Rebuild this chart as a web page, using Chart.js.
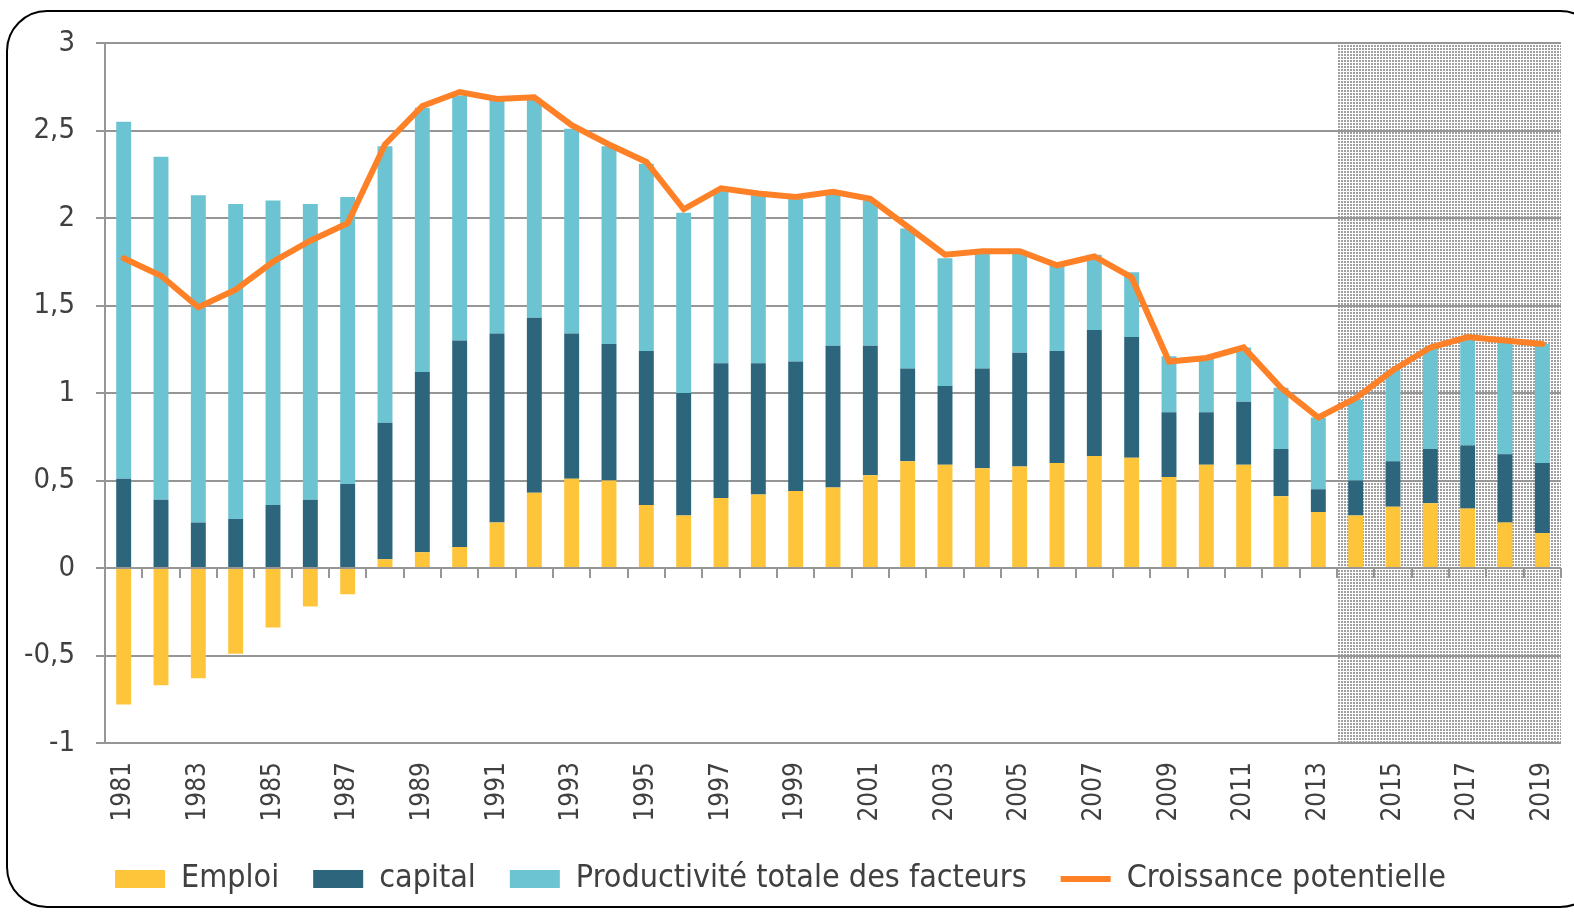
<!DOCTYPE html>
<html>
<head>
<meta charset="utf-8">
<script src="https://cdn.jsdelivr.net/npm/chart.js@4/dist/chart.umd.min.js"></script>
<style>
  html, body { margin: 0; padding: 0; background: #fff; }
  #wrap { width: 1574px; height: 913px; position: relative; }
</style>
</head>
<body>
<div id="wrap"><canvas id="myChart"></canvas></div>
<script>
'use strict'

var years = [1981, 1982, 1983, 1984, 1985, 1986, 1987, 1988, 1989, 1990,
  1991, 1992, 1993, 1994, 1995, 1996, 1997, 1998, 1999, 2000,
  2001, 2002, 2003, 2004, 2005, 2006, 2007, 2008, 2009, 2010,
  2011, 2012, 2013, 2014, 2015, 2016, 2017, 2018, 2019]

var emploi = [-0.78, -0.67, -0.63, -0.49, -0.34, -0.22, -0.15, 0.05, 0.09, 0.12,
  0.26, 0.43, 0.51, 0.50, 0.36, 0.30, 0.40, 0.42, 0.44, 0.46,
  0.53, 0.61, 0.59, 0.57, 0.58, 0.60, 0.64, 0.63, 0.52, 0.59,
  0.59, 0.41, 0.32, 0.30, 0.35, 0.37, 0.34, 0.26, 0.20]

var capital = [0.51, 0.39, 0.26, 0.28, 0.36, 0.39, 0.48, 0.78, 1.03, 1.18,
  1.08, 1.00, 0.83, 0.78, 0.88, 0.70, 0.77, 0.75, 0.74, 0.81,
  0.74, 0.53, 0.45, 0.57, 0.65, 0.64, 0.72, 0.69, 0.37, 0.30,
  0.36, 0.27, 0.13, 0.20, 0.26, 0.31, 0.36, 0.39, 0.40]

var ptf = [2.04, 1.96, 1.87, 1.80, 1.74, 1.69, 1.64, 1.58, 1.51, 1.40,
  1.34, 1.25, 1.17, 1.13, 1.07, 1.03, 0.99, 0.96, 0.93, 0.87,
  0.83, 0.80, 0.73, 0.67, 0.58, 0.49, 0.43, 0.37, 0.32, 0.31,
  0.31, 0.35, 0.41, 0.46, 0.52, 0.58, 0.61, 0.64, 0.68]

var croissance = [1.77, 1.67, 1.49, 1.59, 1.75, 1.87, 1.97, 2.42, 2.64, 2.72,
  2.68, 2.69, 2.53, 2.42, 2.32, 2.05, 2.17, 2.14, 2.12, 2.15,
  2.11, 1.95, 1.79, 1.81, 1.81, 1.73, 1.78, 1.66, 1.18, 1.20,
  1.26, 1.03, 0.86, 0.97, 1.13, 1.26, 1.32, 1.30, 1.28]

// first year of the projection (shaded area)
var projectionStart = 2014

var grey = '#969696'
var textColor = '#404040'

Chart.defaults.font.family = "'Liberation Sans Narrow', 'DejaVu Sans Condensed', 'Noto Sans', sans-serif"
Chart.defaults.color = textColor

// dotted grey pattern for the projection years
function makePattern (g0) {
  var c = document.createElement('canvas')
  c.width = 3
  c.height = 3
  var g = c.getContext('2d')
  g.fillStyle = '#ffffff'
  g.fillRect(0, 0, 3, 3)
  g.fillStyle = '#a0a0a0'
  g.fillRect(0, 0, 2, 2)
  return g0.createPattern(c, 'repeat')
}

var decor = {
  id: 'decor',
  beforeDraw: function (chart) {
    var ctx = chart.ctx
    var area = chart.chartArea
    var x = chart.scales.x
    var i = years.indexOf(projectionStart)
    var left = Math.round(x.getPixelForValue(i) - (x.getPixelForValue(1) - x.getPixelForValue(0)) / 2)
    ctx.save()
    ctx.fillStyle = makePattern(ctx)
    ctx.fillRect(left, area.top, area.right - left, area.bottom - area.top)
    ctx.restore()
  },
  beforeDatasetsDraw: function (chart) {
    // tick marks on the zero line
    var ctx = chart.ctx
    var x = chart.scales.x
    var y0 = chart.scales.y.getPixelForValue(0)
    var step = x.getPixelForValue(1) - x.getPixelForValue(0)
    ctx.save()
    ctx.strokeStyle = grey
    ctx.lineWidth = 2
    ctx.beginPath()
    for (var k = 0; k <= years.length; k++) {
      var px = Math.round(x.getPixelForValue(0) - step / 2 + k * step)
      ctx.moveTo(px, y0)
      ctx.lineTo(px, y0 + 10)
    }
    ctx.stroke()
    ctx.restore()
  },
  afterDraw: function (chart) {
    var ctx = chart.ctx
    ctx.save()
    ctx.strokeStyle = '#000'
    ctx.lineWidth = 2
    ctx.beginPath()
    ctx.roundRect(7, 11, 1593, 896, 40)
    ctx.stroke()
    ctx.restore()
  }
}

var ctx = document.getElementById('myChart')
// eslint-disable-next-line no-unused-vars
var myChart = new Chart(ctx, {
  type: 'bar',
  data: {
    labels: years,
    datasets: [{
      type: 'line',
      label: 'Croissance potentielle',
      data: croissance,
      stack: 'line',
      order: 0,
      borderColor: '#FF8127',
      backgroundColor: '#FF8127',
      borderWidth: 6,
      tension: 0,
      pointRadius: 0,
      pointHoverRadius: 0,
      pointStyle: 'line',
      borderCapStyle: 'round'
    }, {
      label: 'Emploi',
      data: emploi,
      stack: 'bars',
      order: 1,
      backgroundColor: '#FFC53A',
      pointStyle: 'rect'
    }, {
      label: 'capital',
      data: capital,
      stack: 'bars',
      order: 1,
      backgroundColor: '#2D667C',
      pointStyle: 'rect'
    }, {
      label: 'Productivité totale des facteurs',
      data: ptf,
      stack: 'bars',
      order: 1,
      backgroundColor: '#6CC3D2',
      pointStyle: 'rect'
    }]
  },
  options: {
    responsive: true,
    maintainAspectRatio: false,
    animation: false,
    categoryPercentage: 1,
    barPercentage: 0.4,
    layout: {
      padding: { top: 43, right: 13, left: 0, bottom: 8 }
    },
    scales: {
      x: {
        stacked: true,
        offset: true,
        grid: { display: false, drawTicks: false },
        border: { display: false },
        afterFit: function (scale) {
          scale.height = 86
          scale.paddingLeft = 0
          scale.paddingRight = 0
        },
        ticks: {
          autoSkip: false,
          minRotation: 90,
          maxRotation: 90,
          padding: 19,
          font: { size: 26 },
          color: textColor,
          callback: function (value, index) {
            return index % 2 === 0 ? String(years[index]) : ''
          }
        }
      },
      y: {
        stacked: true,
        min: -1,
        max: 3,
        afterFit: function (scale) {
          scale.width = 105
          scale.paddingTop = 0
          scale.paddingBottom = 0
        },
        grid: {
          color: grey,
          lineWidth: 2,
          tickLength: 9
        },
        border: { color: grey, width: 2 },
        ticks: {
          stepSize: 0.5,
          padding: 21,
          font: { size: 29 },
          color: textColor,
          callback: function (v) { return String(v).replace('.', ',') }
        }
      }
    },
    plugins: {
      tooltip: { enabled: false },
      legend: {
        position: 'bottom',
        labels: {
          usePointStyle: true,
          pointStyleWidth: 50,
          boxHeight: 18,
          padding: 34,
          font: { size: 32 },
          color: textColor,
          sort: function (a, b) { return a.datasetIndex === 0 ? 1 : (b.datasetIndex === 0 ? -1 : a.datasetIndex - b.datasetIndex) }
        }
      }
    }
  },
  plugins: [decor]
})
</script>
</body>
</html>
